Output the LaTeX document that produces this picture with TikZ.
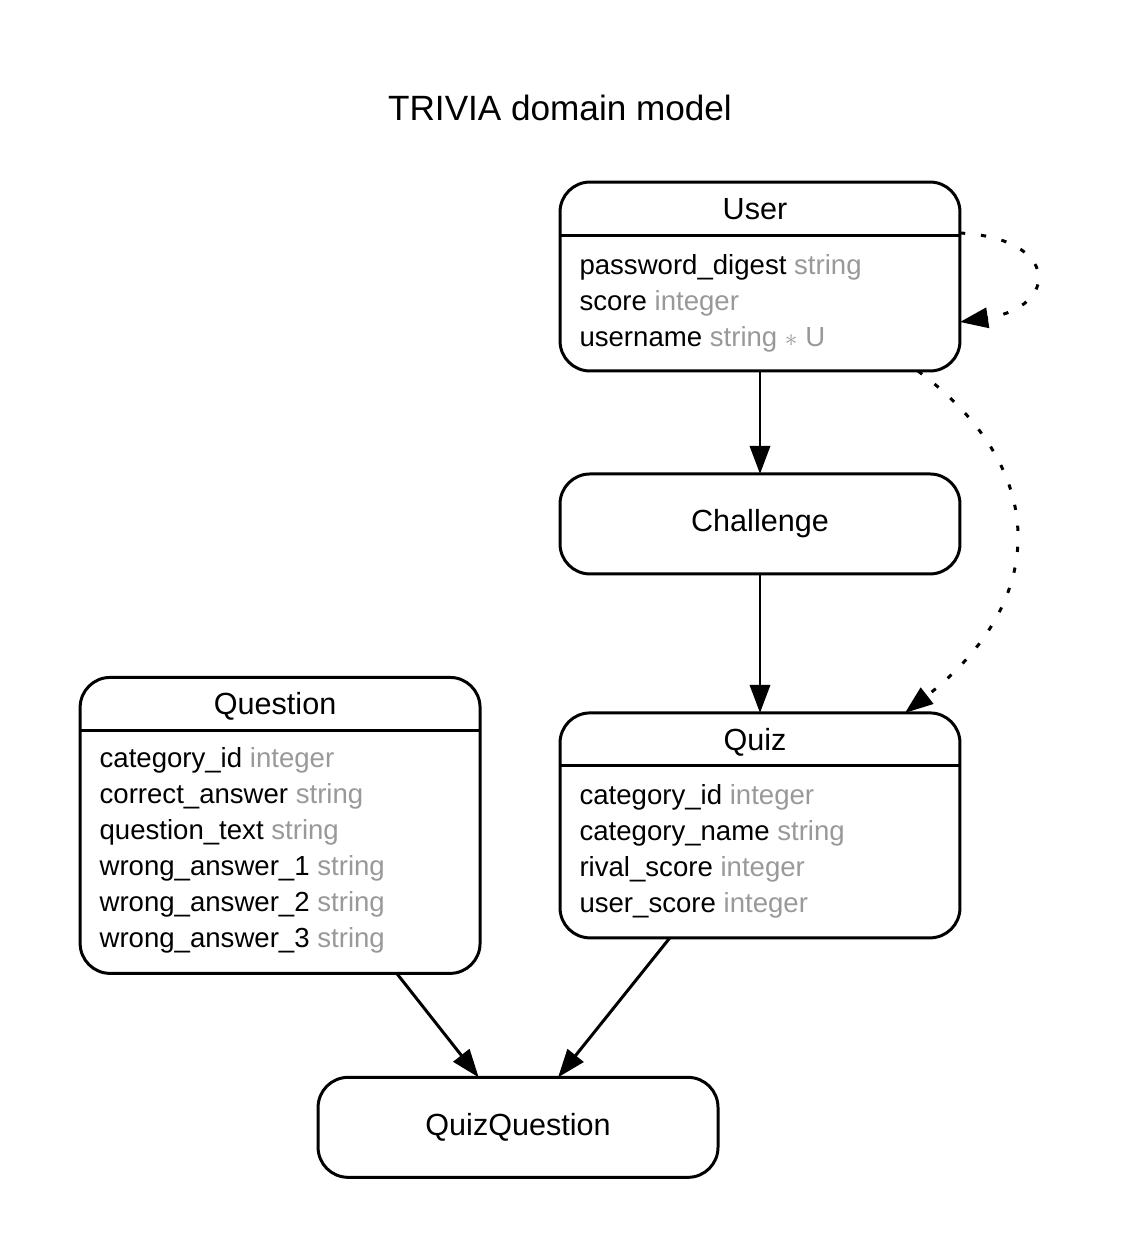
\documentclass[tikz,border=0pt]{standalone}
\usepackage{fontspec}
\setmainfont{Liberation Sans}
\usepackage{tikz}
\usetikzlibrary{arrows.meta,positioning}
\definecolor{typegray}{RGB}{153,153,153}

\begin{document}
\begin{tikzpicture}[
    x=0.02cm, y=-0.02cm,
    line width=1.7pt,
    entity/.style={draw, rounded corners=0.6cm, minimum width=8cm, inner sep=0pt, outer sep=0pt},
    plain/.style={entity, minimum height=2cm, font=\fontsize{17.4}{21}\selectfont},
    head/.style={anchor=base, inner sep=0pt, font=\fontsize{17.4}{21}\selectfont},
    attr/.style={anchor=base west, inner sep=0pt, font=\fontsize{15.7}{20}\selectfont},
    rel/.style={-{Triangle[length=16pt, width=11.5pt]}},
    dots/.style={rel, dash pattern=on 3pt off 9pt},
    node distance=2.06cm and 1.6cm
  ]
  \useasboundingbox (0,0) rectangle (1123,1259);
  \node[anchor=base, font=\fontsize{20}{24}\selectfont] (title) at (560,120) {TRIVIA domain model};

  \node[entity, minimum height=3.78cm] (user) at (760,276.5) {};
  \node[plain, below=of user] (challenge) {Challenge};
  \node[entity, minimum height=4.5cm, below=2.78cm of challenge] (quiz) {};
  \node[entity, minimum height=5.92cm, left=of quiz] (question) {};
  \node[plain, below=2.08cm of question, xshift=4.76cm] (quizq) {QuizQuestion};

  % header rows
  \foreach \e in {user, quiz, question}
    \draw ([yshift=-1.06cm]\e.north west) -- ([yshift=-1.06cm]\e.north east);
  \node[head] (user-h) at ([xshift=-0.1cm, yshift=-0.75cm]user.north) {User};
  \node[head] (quiz-h) at ([xshift=-0.1cm, yshift=-0.75cm]quiz.north) {Quiz};
  \node[head] (question-h) at ([xshift=-0.1cm, yshift=-0.75cm]question.north) {Question};

  % attributes
  \foreach \a/\t [count=\i from 0] in {password\_digest/string, score/integer, username/{string $\ast$ U}}
    \node[attr] (user-a\i) at ([xshift=0.36cm, yshift={-(1.85+\i*0.72)*1cm}]user.north west) {\a\ \textcolor{typegray}{\t}};
  \foreach \a/\t [count=\i from 0] in {category\_id/integer, category\_name/string, rival\_score/integer, user\_score/integer}
    \node[attr] (quiz-a\i) at ([xshift=0.36cm, yshift={-(1.83+\i*0.72)*1cm}]quiz.north west) {\a\ \textcolor{typegray}{\t}};
  \foreach \a/\t [count=\i from 0] in {category\_id/integer, correct\_answer/string, question\_text/string, wrong\_answer\_1/string, wrong\_answer\_2/string, wrong\_answer\_3/string}
    \node[attr] (question-a\i) at ([xshift=0.36cm, yshift={-(1.81+\i*0.72)*1cm}]question.north west) {\a\ \textcolor{typegray}{\t}};

  \draw[rel] (user) -- (challenge);
  \draw[rel] (challenge) -- (quiz);
  \draw[rel] (question) -- (quizq);
  \draw[rel] (quiz) -- (quizq);
  \draw[dots] ([yshift=-1.02cm]user.north east) .. controls +(100,5) and +(100,-15) .. ([yshift=-2.8cm]user.north east);
  \draw[dots] ([xshift=-0.84cm]user.south east) .. controls +(132,98) and +(145,-113) .. ([xshift=-1.1cm]quiz.north east);
\end{tikzpicture}
\end{document}
